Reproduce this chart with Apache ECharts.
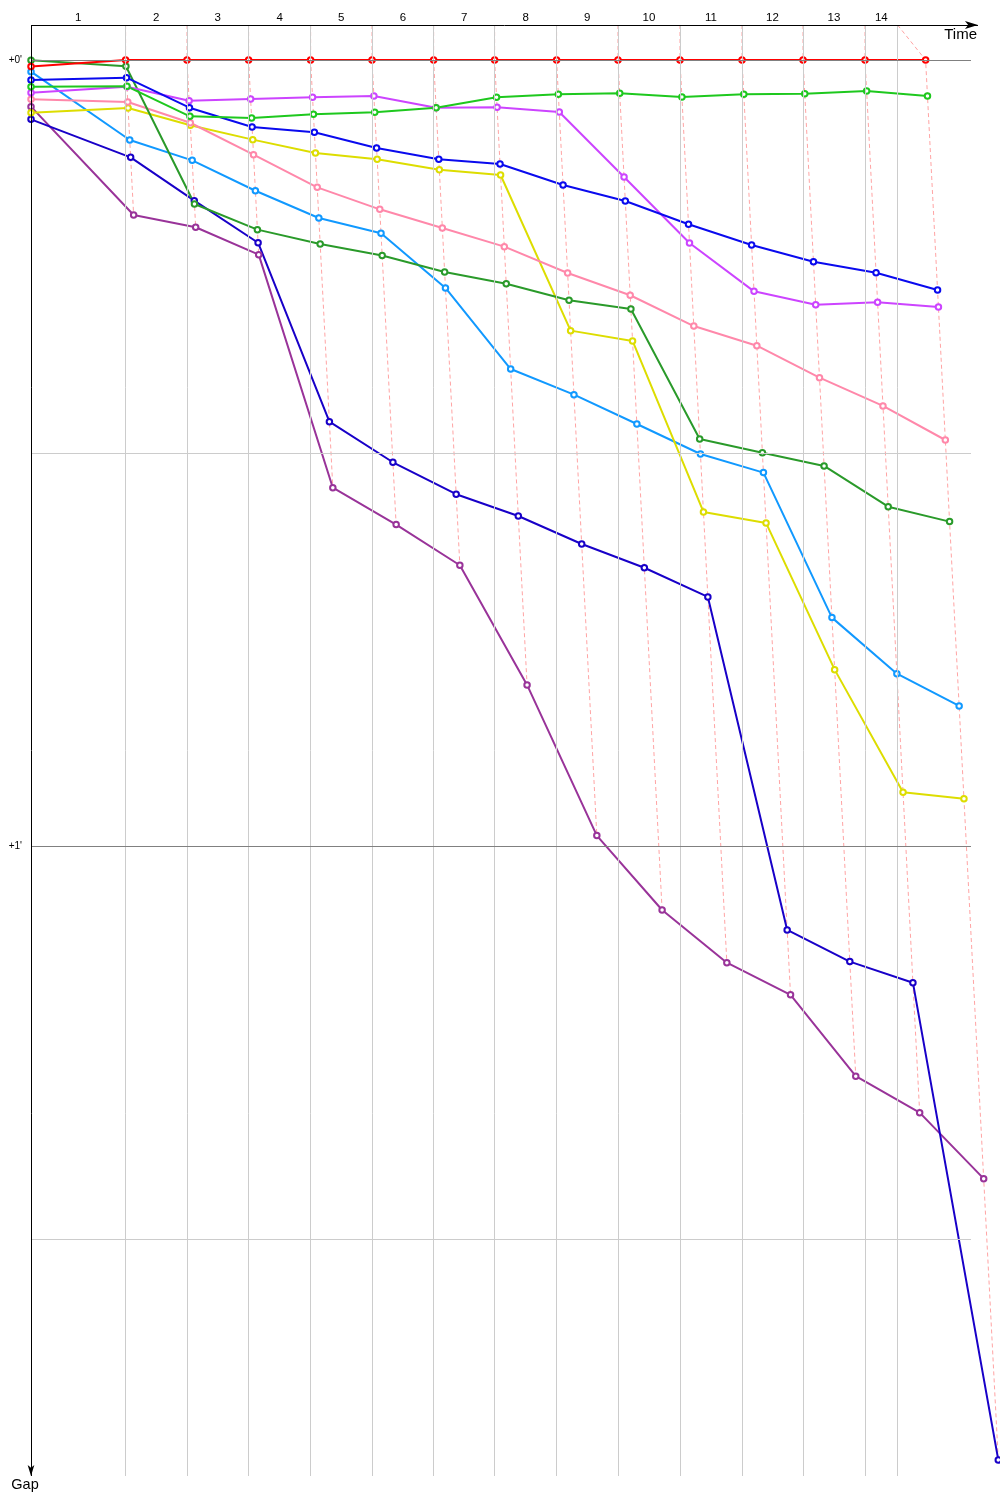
<!DOCTYPE html>
<html><head><meta charset="utf-8">
<script src="https://cdn.jsdelivr.net/npm/echarts@6/dist/echarts.min.js"></script>
<style>html,body{margin:0;padding:0;background:#fff}#c{width:1000px;height:1500px}</style>
</head><body><div id="c"></div>
<script>
// ---- data ----
const lapLabels = ['1','2','3','4','5','6','7','8','9','10','11','12','13','14'];
// leader's cumulative race time (s) at start and after each lap
const leaderTimes = [0, 139.1, 229.4, 320.0, 411.2, 501.5, 592.1, 681.8, 772.9, 863.2, 954.4, 1045.6, 1135.3, 1226.5, 1315.6];
// time of each lap mark on the time axis
const lapLineTimes = [139.1, 229.4, 320.0, 411.2, 501.5, 592.1, 681.8, 772.9, 863.2, 954.4, 1045.6, 1135.3, 1226.5, 1274.4];
const gapLevels = [0, 30, 60, 90];
const gapLabelValues = [0, 60];
const gapLabelTexts = ["+0'", "+1'"];

// gaps to leader (s), start + laps 1..14
const gapsRed       = [0.50, 0, 0, 0, 0, 0, 0, 0, 0, 0, 0, 0, 0, 0, 0];
const gapsGreen     = [2.04, 2.01, 4.30, 4.43, 4.15, 3.99, 3.64, 2.85, 2.62, 2.54, 2.82, 2.62, 2.57, 2.37, 2.75];
const gapsDarkGreen = [0.02, 0.48, 10.99, 12.95, 14.05, 14.92, 16.18, 17.08, 18.34, 19.01, 28.93, 29.98, 30.99, 34.10, 35.24];
const gapsBlue      = [1.53, 1.35, 3.64, 5.11, 5.52, 6.72, 7.58, 7.94, 9.54, 10.76, 12.54, 14.12, 15.40, 16.24, 17.56];
const gapsMagenta   = [2.50, 2.04, 3.11, 2.98, 2.85, 2.75, 3.64, 3.61, 3.97, 8.93, 13.97, 17.66, 18.68, 18.50, 18.85];
const gapsPink      = [3.00, 3.21, 4.79, 7.23, 9.72, 11.40, 12.82, 14.25, 16.26, 17.96, 20.31, 21.81, 24.25, 26.41, 29.01];
const gapsYellow    = [4.02, 3.66, 4.98, 6.08, 7.10, 7.58, 8.37, 8.78, 20.66, 21.45, 34.50, 35.34, 46.54, 55.90, 56.39];
const gapsLightBlue = [0.89, 6.11, 7.66, 9.98, 12.06, 13.23, 17.40, 23.59, 25.55, 27.79, 30.08, 31.50, 42.57, 46.85, 49.31];
const gapsNavy      = [4.53, 7.43, 10.74, 13.95, 27.61, 30.71, 33.15, 34.81, 36.95, 38.76, 40.99, 66.41, 68.83, 70.44, 106.87];
const gapsPurple    = [3.56, 11.83, 12.77, 14.86, 32.65, 35.47, 38.57, 47.71, 59.21, 64.89, 68.91, 71.37, 77.58, 80.36, 85.40];

const driverGaps = [gapsPurple, gapsNavy, gapsLightBlue, gapsYellow, gapsPink, gapsDarkGreen, gapsMagenta, gapsBlue, gapsGreen, gapsRed];
const driverColors = ['#993399', '#1800c8', '#1199ff', '#dddd00', '#ff88aa', '#2a9a2a', '#cc44ff', '#0a0aee', '#1ec81e', '#ff0000'];

// ---- layout ----
const X_MAX = 1425, Y_MIN = -2.672, Y_MAX = 108.1;
const GRID_END = 1382.35;     // where the gap grid lines stop
const X_AXIS_END = 1392.6;    // tip of the time axis arrow
const Y_AXIS_END = 108.1;     // tip of the gap axis arrow
const FONT = 'Liberation Sans, Arial, sans-serif';

const pointX = (lap, gap) => lap === 0 ? 0 : leaderTimes[lap] + gap;
const labelMids = lapLabels.map((_, i) => ((i === 0 ? 0 : lapLineTimes[i - 1]) + lapLineTimes[i]) / 2);

const series = [];
// grid lines
series.push({
  type: 'line', data: [], silent: true, z: 1, animation: false, clip: false,
  markLine: {
    silent: true, symbol: ['none', 'none'], label: { show: false }, animation: false,
    emphasis: { disabled: true },
    data: lapLineTimes.map(t => ({ xAxis: t, lineStyle: { color: '#cccccc', width: 1, type: 'solid' } }))
      .concat(gapLevels.map(g => [
        { coord: [0, g], lineStyle: { color: g % 60 === 0 ? '#808080' : '#cccccc', width: 1, type: 'solid' } },
        { coord: [GRID_END, g] }
      ]))
  }
});
// axis lines with arrows
series.push({
  type: 'line', data: [], silent: true, z: 5, animation: false, clip: false,
  markLine: {
    silent: true, label: { show: false }, animation: false, emphasis: { disabled: true },
    lineStyle: { color: '#000', width: 1, type: 'solid' },
    data: [
      [{ coord: [0, Y_MIN], symbol: 'none' }, { coord: [X_AXIS_END, Y_MIN], symbol: 'arrow', symbolSize: [6, 13] }],
      [{ coord: [0, Y_MIN], symbol: 'none' }, { coord: [0, Y_AXIS_END], symbol: 'arrow', symbolSize: [5, 11] }]
    ]
  }
});
// lap connection lines
for (let k = 1; k < leaderTimes.length; k++) {
  const pts = driverGaps.map(g => [pointX(k, g[k]), g[k]]).sort((a, b) => a[1] - b[1]);
  series.push({
    type: 'line', data: [[lapLineTimes[k - 1], Y_MIN]].concat(pts), symbol: 'none', silent: true,
    clip: false, z: 2, animation: false,
    lineStyle: { color: '#ffa4a4', width: 1, type: [4, 3] }
  });
}
// drivers
driverGaps.forEach((g, i) => {
  series.push({
    type: 'line', data: g.map((v, lap) => [pointX(lap, v), v]),
    symbol: 'emptyCircle', symbolSize: 5.5, clip: false, z: 3, silent: true, animation: false,
    lineStyle: { color: driverColors[i], width: 2 },
    itemStyle: { color: driverColors[i], borderWidth: 1 }
  });
});

const chart = echarts.init(document.getElementById('c'), null, { renderer: 'canvas' });
chart.setOption({
  backgroundColor: '#ffffff',
  animation: false,
  grid: { left: 31, top: 25, right: 0, bottom: 24, containLabel: false },
  xAxis: {
    type: 'value', position: 'top', min: 0, max: X_MAX,
    axisLine: { show: false, onZero: false },
    axisTick: { show: false }, splitLine: { show: false },
    axisLabel: {
      customValues: labelMids, margin: 1, color: '#000', fontSize: 11.5, fontFamily: FONT,
      formatter: v => { const i = labelMids.findIndex(m => Math.abs(m - v) < 1e-6); return i >= 0 ? lapLabels[i] : ''; }
    },
    name: 'Time', nameLocation: 'end', nameGap: -23,
    nameTextStyle: { color: '#000', fontSize: 15, fontFamily: FONT, align: 'right', verticalAlign: 'top', padding: [2, 0, 0, 0] }
  },
  yAxis: {
    type: 'value', inverse: true, min: Y_MIN, max: Y_MAX,
    axisLine: { show: false, onZero: false },
    axisTick: { show: false }, splitLine: { show: false },
    axisLabel: {
      customValues: gapLabelValues, margin: 9, color: '#000', fontSize: 10, fontFamily: FONT,
      formatter: v => { const i = gapLabelValues.indexOf(v); return i >= 0 ? gapLabelTexts[i] : ''; }
    },
    name: 'Gap', nameLocation: 'end', nameGap: 1,
    nameTextStyle: { color: '#000', fontSize: 14.5, fontFamily: FONT, padding: [0, 12, 0, 0] }
  },
  series: series
});
</script>
</body></html>
